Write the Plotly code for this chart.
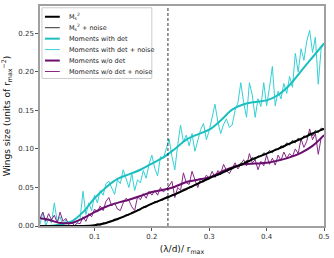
import plotly.graph_objects as go

# ---------------- data ----------------
x_smooth = [0.005, 0.02, 0.04, 0.06, 0.08, 0.10, 0.12, 0.14, 0.16, 0.18, 0.20, 0.22, 0.24,
            0.26, 0.28, 0.30, 0.32, 0.34, 0.36, 0.38, 0.40, 0.42, 0.44, 0.46, 0.48, 0.50]

ms2 = [0.000, 0.000, 0.000, 0.000, 0.000, 0.001, 0.004, 0.009, 0.015, 0.022, 0.029, 0.035, 0.041,
       0.048, 0.055, 0.062, 0.068, 0.075, 0.081, 0.088, 0.094, 0.100, 0.107, 0.113, 0.120, 0.126]

mom_det = [0.000, 0.000, 0.002, 0.006, 0.018, 0.036, 0.050, 0.061, 0.067, 0.073, 0.081, 0.089, 0.100,
           0.112, 0.119, 0.125, 0.137, 0.151, 0.158, 0.161, 0.163, 0.170, 0.183, 0.201, 0.219, 0.237]

mom_nodet = [0.010, 0.008, 0.004, 0.004, 0.010, 0.018, 0.025, 0.030, 0.034, 0.039, 0.044, 0.047, 0.051,
             0.057, 0.060, 0.063, 0.070, 0.076, 0.080, 0.081, 0.082, 0.085, 0.089, 0.095, 0.104, 0.118]

x_noise = [round(0.005 * k, 3) for k in range(1, 101)]

ms2_noise = [
    0, 0, 0, 0, 0, 0, 0, 0, 0, 0,
    0, 0, 0, 0, 0, 0, 0, 0, 0.000, 0.001,
    0.003, 0.001, 0.004, 0.003, 0.006, 0.006, 0.009, 0.008, 0.011, 0.011,
    0.015, 0.014, 0.018, 0.018, 0.021, 0.021, 0.025, 0.024, 0.028, 0.028,
    0.032, 0.031, 0.034, 0.034, 0.038, 0.037, 0.041, 0.040, 0.044, 0.044,
    0.048, 0.047, 0.051, 0.050, 0.054, 0.054, 0.058, 0.057, 0.061, 0.061,
    0.065, 0.064, 0.068, 0.067, 0.071, 0.071, 0.075, 0.074, 0.079, 0.077,
    0.082, 0.080, 0.085, 0.084, 0.089, 0.086, 0.091, 0.090, 0.095, 0.093,
    0.098, 0.095, 0.100, 0.099, 0.104, 0.102, 0.108, 0.105, 0.111, 0.108,
    0.114, 0.111, 0.117, 0.115, 0.121, 0.117, 0.124, 0.121, 0.127, 0.126,
]

mom_det_noise = [
    0.002, 0.018, 0.000, 0.010, 0.004, 0.030, 0.006, 0.012, 0.000, 0.008,
    0.002, 0.006, 0.000, 0.004, 0.010, 0.045, 0.015, 0.030, 0.020, 0.040,
    0.030, 0.046, 0.040, 0.055, 0.058, 0.050, 0.041, 0.060, 0.055, 0.073,
    0.062, 0.050, 0.068, 0.046, 0.060, 0.056, 0.072, 0.062, 0.080, 0.092,
    0.075, 0.065, 0.090, 0.088, 0.100, 0.113, 0.090, 0.073, 0.105, 0.131,
    0.109, 0.118, 0.104, 0.120, 0.097, 0.110, 0.125, 0.133, 0.112, 0.124,
    0.140, 0.158, 0.135, 0.120, 0.132, 0.139, 0.128, 0.131, 0.150, 0.160,
    0.186, 0.160, 0.141, 0.186, 0.170, 0.141, 0.165, 0.155, 0.186, 0.156,
    0.180, 0.207, 0.156, 0.175, 0.165, 0.185, 0.172, 0.194, 0.180, 0.224,
    0.200, 0.230, 0.215, 0.240, 0.254, 0.225, 0.245, 0.184, 0.230, 0.237,
]

mom_nodet_noise = [
    0.010, 0.018, 0.006, 0.016, 0.008, 0.014, 0.004, 0.018, 0.006, 0.010,
    0.002, 0.006, 0.000, 0.004, 0.003, 0.012, 0.006, 0.016, 0.012, 0.022,
    0.018, 0.026, 0.020, 0.032, 0.037, 0.026, 0.030, 0.022, 0.020, 0.030,
    0.036, 0.033, 0.025, 0.020, 0.038, 0.034, 0.042, 0.036, 0.045, 0.040,
    0.046, 0.040, 0.050, 0.044, 0.048, 0.052, 0.058, 0.037, 0.050, 0.046,
    0.069, 0.056, 0.054, 0.071, 0.060, 0.050, 0.062, 0.058, 0.066, 0.062,
    0.071, 0.063, 0.072, 0.068, 0.080, 0.072, 0.068, 0.076, 0.082, 0.074,
    0.080, 0.086, 0.078, 0.094, 0.082, 0.086, 0.073, 0.084, 0.078, 0.092,
    0.080, 0.088, 0.079, 0.092, 0.085, 0.096, 0.088, 0.094, 0.090, 0.100,
    0.094, 0.113, 0.102, 0.110, 0.126, 0.112, 0.120, 0.093, 0.114, 0.118,
]

threshold_x = 0.228

legend_names = ["M<sub>s</sub><sup>2</sup>", "M<sub>s</sub><sup>2</sup> + noise",
                "Moments with det", "Moments with det + noise",
                "Moments w/o det", "Moments w/o det + noise"]

# ---------------- styles ----------------
C_BLACK = "#000000"
C_CYAN = "#1cbfbf"
C_CYAN_N = "#35d0d4"
C_PURP = "#6a0f6e"
C_PURP_N = "#862a88"
FONT = "DejaVu Sans"

fig = go.Figure()
fig.add_trace(go.Scatter(x=x_noise, y=mom_det_noise, mode="lines", line=dict(color=C_CYAN_N, width=1)))
fig.add_trace(go.Scatter(x=x_noise, y=mom_nodet_noise, mode="lines", line=dict(color=C_PURP_N, width=1)))
fig.add_trace(go.Scatter(x=x_noise, y=ms2_noise, mode="lines", line=dict(color="#333333", width=1)))
fig.add_trace(go.Scatter(x=x_smooth, y=mom_det, mode="lines", line=dict(color=C_CYAN, width=2, shape="spline")))
fig.add_trace(go.Scatter(x=x_smooth, y=mom_nodet, mode="lines", line=dict(color=C_PURP, width=2, shape="spline")))
fig.add_trace(go.Scatter(x=x_smooth, y=ms2, mode="lines", line=dict(color=C_BLACK, width=2, shape="spline")))

fig.add_vline(x=threshold_x, line=dict(color="black", width=0.8, dash="3px,2px"))

# ---------------- custom compact legend ----------------
W0, W1, H0, H1 = 40, 327, 4.7, 225.7
def px2x(p):
    return (p - W0) / (W1 - W0)
def px2y(p):
    return (H1 - p) / (H1 - H0)

fig.add_shape(type="rect", xref="paper", yref="paper",
              x0=px2x(42), x1=px2x(153), y0=px2y(77.5), y1=px2y(6.5),
              line=dict(color="#cccccc", width=1), fillcolor="rgba(255,255,255,0.85)")
rows = [15.5, 26.5, 37.5, 48.5, 59.5, 70.5]
leg_styles = [(C_BLACK, 2), ("#333333", 1), (C_CYAN, 2), (C_CYAN_N, 1), (C_PURP, 2), (C_PURP_N, 1)]
for name, yy, (col, w) in zip(legend_names, rows, leg_styles):
    fig.add_shape(type="line", xref="paper", yref="paper",
                  x0=px2x(45), x1=px2x(60), y0=px2y(yy), y1=px2y(yy),
                  line=dict(color=col, width=w))
    fig.add_annotation(xref="paper", yref="paper", x=px2x(67), y=px2y(yy),
                       text=name, showarrow=False, xanchor="left", yanchor="middle",
                       font=dict(family=FONT, size=6.5, color="#222222"))

axis_common = dict(showgrid=False, zeroline=False, showline=True, mirror=True,
                   linecolor="#a0a0a0", linewidth=1.5, ticks="outside", ticklen=3,
                   tickcolor="#555555", tickfont=dict(family=FONT, size=7, color="#333333"))

fig.update_layout(
    width=334, height=258,
    margin=dict(l=W0, r=334 - W1, t=H0, b=258 - H1),
    paper_bgcolor="white", plot_bgcolor="white",
    showlegend=False,
    xaxis=dict(range=[0.005, 0.5], tickvals=[0.1, 0.2, 0.3, 0.4, 0.5],
               ticktext=["0.1", "0.2", "0.3", "0.4", "0.5"],
               title=dict(text="(λ/d)/ r<sub>max</sub>", font=dict(family=FONT, size=9, color="#111111"),
                          standoff=6),
               **axis_common),
    yaxis=dict(range=[0, 0.2855], tickvals=[0, 0.05, 0.10, 0.15, 0.20, 0.25],
               ticktext=["0.00", "0.05", "0.10", "0.15", "0.20", "0.25"],
               title=dict(text="Wings size (units of r<sub>max</sub><sup>−2</sup>)",
                          font=dict(family=FONT, size=9, color="#111111"), standoff=6),
               **axis_common),
)

fig.write_html("out.html", config={"displayModeBar": False},
               post_script="document.body.style.margin='0px';document.body.style.overflow='hidden';")
